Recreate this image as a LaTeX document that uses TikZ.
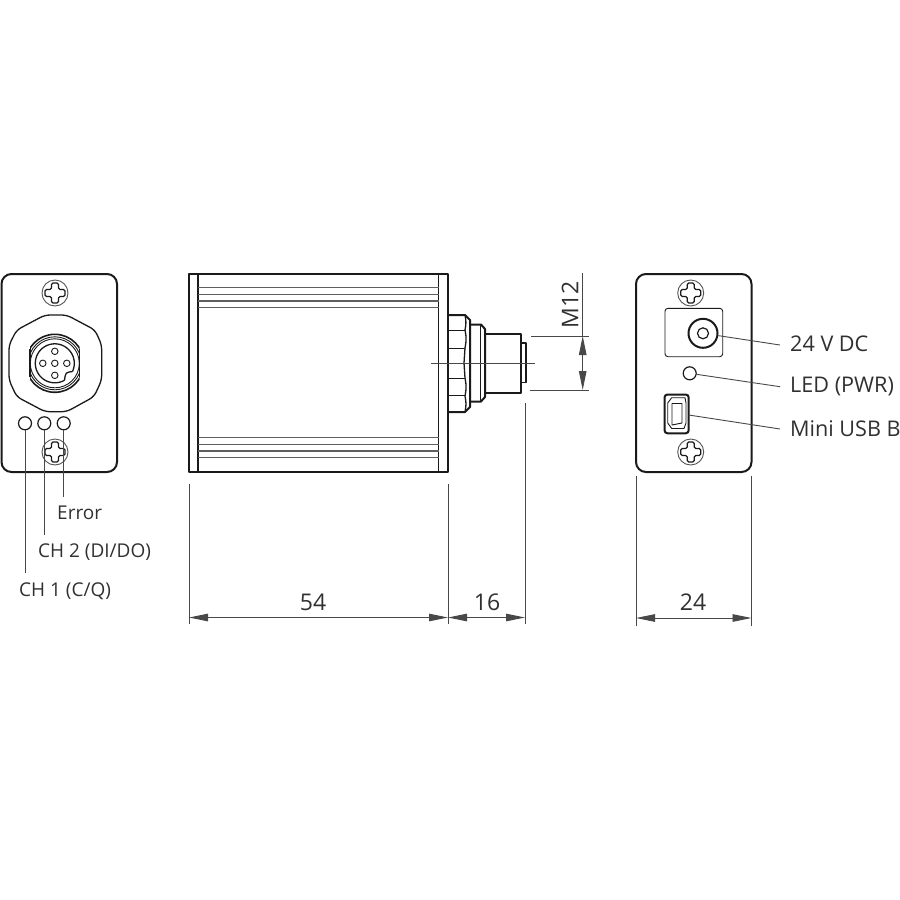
\documentclass[tikz,border=0pt]{standalone}
\usepackage{fontspec}
\setmainfont{Open Sans}
\usetikzlibrary{arrows.meta,calc}
\definecolor{ink}{HTML}{1A1A1A}
\definecolor{txt}{HTML}{303030}
\tikzset{
  heavy/.style={draw=ink,line width=2pt,line join=round},
  mid/.style={draw=ink,line width=1.3pt,line join=round},
  thin/.style={draw=ink,line width=0.9pt},
  leader/.style={draw=ink!80,line width=0.9pt},
  groove/.style={draw=ink!70,line width=1.2pt},
  dim/.style={draw=ink!80,line width=0.9pt,{Triangle[length=19pt,width=7.5pt]}-{Triangle[length=19pt,width=7.5pt]}},
  lab/.style={text=txt,font=\fontsize{21.6}{26}\selectfont,inner sep=0pt},
  numlab/.style={text=txt,font=\fontsize{23}{28}\selectfont,inner sep=0pt},
  smalllab/.style={text=txt,font=\fontsize{19}{23}\selectfont,inner sep=0pt},
  panel/.style={heavy,rounded corners=10pt},
  led/.style={circle,draw=ink,line width=1.2pt,minimum size=13pt,inner sep=0pt},
  pinhole/.style={circle,draw=ink,line width=0.9pt,minimum size=6.5pt,inner sep=0pt},
  screwhead/.style={circle,draw=ink!75,line width=0.9pt,minimum size=26pt,inner sep=0pt},
}
\newcommand{\screwcross}[1]{%
  \draw[mid,rounded corners=1.5pt] ($(#1)+(-3.5,-10)$) -- ($(#1)+(3.5,-10)$) -- ($(#1)+(3.5,-3.5)$) -- ($(#1)+(10,-3.5)$) -- ($(#1)+(10,3.5)$) -- ($(#1)+(3.5,3.5)$) -- ($(#1)+(3.5,10)$) -- ($(#1)+(-3.5,10)$) -- ($(#1)+(-3.5,3.5)$) -- ($(#1)+(-10,3.5)$) -- ($(#1)+(-10,-3.5)$) -- ($(#1)+(-3.5,-3.5)$) -- cycle;}
\begin{document}
\begin{tikzpicture}[x=1pt,y=-1pt]
\useasboundingbox (0,0) rectangle (900,900);
% left panel
\draw[panel] (1.5,274) rectangle (117,472);
\node[screwhead] (s1) at (55,293) {};
\screwcross{s1}
\node[screwhead] (s2) at (55,452) {};
\screwcross{s2}
\draw[mid,rounded corners=5pt] (45,315) -- (66.7,315) -- (95,330) -- (101.7,345) -- (101.7,380) -- (94,396.7) -- (66.7,411.7) -- (45,411.7) -- (16.7,396.7) -- (9,380) -- (9,345) -- (16.7,330) -- cycle;
\coordinate (cc) at (54.8,363.3);
\begin{scope}
\clip (30,330) rectangle (79.5,396);
\draw[heavy,line width=1.6pt] (cc) circle (29);
\draw[thin] (cc) circle (26.5);
\draw[thin] (cc) circle (24.5);
\end{scope}
\draw[mid] (30,349) -- (30,377);
\draw[mid] (79.5,349) -- (79.5,377);
\draw[mid,smooth] plot[domain=60:385,samples=60] ({54.8+19.5*cos(\x)},{363.3+19.5*sin(\x)});
\draw[mid] ({54.8+19.5*cos(25)},{363.3+19.5*sin(25)}) .. controls (65.5,372.5) .. ({54.8+19.5*cos(60)},{363.3+19.5*sin(60)});
\foreach \n/\a/\b in {p1/0/-12,p2/-12/0,p3/0/0,p4/12/0,p5/0/12}{
  \node[pinhole] (\n) at ($(cc)+(\a,\b)$) {};
}
\node[led] (l1) at (25,423.3) {};
\node[led] (l2) at (44.3,423.3) {};
\node[led] (l3) at (63.7,423.3) {};
\coordinate (l1e) at (25,573);
\coordinate (l2e) at (44.3,535);
\coordinate (l3e) at (63.7,497);
\draw[leader] (l1) -- (l1e);
\draw[leader] (l2) -- (l2e);
\draw[leader] (l3) -- (l3e);
\node[smalllab,anchor=west] (terr) at (57,512.5) {Error};
\node[smalllab,anchor=west] (tch2) at (38,552) {CH 2 (DI/DO)};
\node[smalllab,anchor=west] (tch1) at (19,591) {CH 1 (C/Q)};
% body
\draw[heavy] (189,274) rectangle (448,471.5);
\draw[mid] (198,274) -- (198,471.5);
\draw[mid] (438.5,274) -- (438.5,471.5);
\foreach \y in {287.7,294.3,301,307.7,437.7,444.3,451,457.7}{
  \draw[groove] (198,\y) -- (438.5,\y);
}
% connector
\draw[heavy] (448,315) -- (465,315) -- (470,320) -- (470,407) -- (465,412) -- (448,412);
\draw[mid] (465,315) to[bend left=12] (465,330) to[bend left=12] (465,348) -- (464,363) -- (465,378) to[bend left=12] (465,396) to[bend left=12] (465,412);
\draw[thin] (449,330.5) -- (465,330.5);
\draw[thin] (449,348.5) -- (465,348.5);
\draw[thin] (449,378.5) -- (465,378.5);
\draw[thin] (449,395.5) -- (465,395.5);
\draw[heavy] (470,324.5) -- (481,324.5) -- (485,329) -- (485,397) -- (481,401.5) -- (470,401.5);
\draw[mid] (480.5,324.5) -- (480.5,401.5);
\draw[heavy] (485,333.5) -- (521,333.5) -- (521,393) -- (485,393);
\draw[mid] (521,343) -- (526,343) -- (526,382.5) -- (521,382.5);
\coordinate (cl1) at (431,363);
\coordinate (cl2) at (535,363);
\draw[leader] (cl1) -- (cl2);
% M12 dimension
\coordinate (m1a) at (531,336);
\coordinate (m1b) at (589,336);
\coordinate (m2a) at (530,390);
\coordinate (m2b) at (589,390);
\coordinate (mtop) at (582.7,273);
\coordinate (mlo) at (582.7,390);
\coordinate (mhi) at (582.7,336);
\draw[leader] (m1a) -- (m1b);
\draw[leader] (m2a) -- (m2b);
\draw[leader] (mtop) -- (mhi);
\draw[dim] (mhi) -- (mlo);
\node[numlab,rotate=90] (tm12) at (570,304.5) {M12};
% right panel
\draw[panel] (636,274) rectangle (751.5,472);
\node[screwhead] (s3) at (690.7,293) {};
\screwcross{s3}
\node[screwhead] (s4) at (690.7,452) {};
\screwcross{s4}
\draw[thin,rounded corners=3pt] (665,308.3) rectangle (722.7,356.7);
\node[circle,draw=ink,line width=2pt,minimum size=29pt,inner sep=0pt] (jack) at (703,333.3) {};
\node[circle,draw=ink,line width=1.2pt,minimum size=11pt,inner sep=0pt] (jackin) at (703,333.3) {};
\node[led] (pwr) at (689.7,373.3) {};
\draw[heavy,rounded corners=3pt] (664.5,394.5) rectangle (688.7,433.3);
\draw[thin,line join=round] (667.7,403) -- (671.7,397.7) -- (685,397.7) -- (686,403) -- (686,423) -- (684,428.5) -- (671.7,428.5) -- (667.7,423) -- cycle;
\draw[thin,line join=round] (672,403.5) -- (682,403.5) -- (682,423) -- (672,425) -- cycle;
\node[lab,anchor=west] (t24) at (790,344) {24 V DC};
\node[lab,anchor=west] (tled) at (790,386) {LED (PWR)};
\node[lab,anchor=west] (tusb) at (790,429) {Mini USB B};
\coordinate (j1) at (780,345);
\coordinate (j2) at (780,386.7);
\coordinate (j3) at (780,429);
\coordinate (u0) at (688.7,415);
\draw[leader] (jack) -- (j1);
\draw[leader] (pwr) -- (j2);
\draw[leader] (u0) -- (j3);
% bottom dimensions
\coordinate (e1a) at (189,484);
\coordinate (e1b) at (189,624);
\coordinate (e2a) at (448,484);
\coordinate (e2b) at (448,624);
\coordinate (e3a) at (525,403);
\coordinate (e3b) at (525,624);
\coordinate (e4a) at (636,476);
\coordinate (e4b) at (636,626);
\coordinate (e5a) at (751.5,476);
\coordinate (e5b) at (751.5,626);
\foreach \n in {1,...,5}{\draw[leader] (e\n a) -- (e\n b);}
\coordinate (d1) at (189,617.5);
\coordinate (d2) at (448,617.5);
\coordinate (d3) at (525,617.5);
\coordinate (d4) at (636,618);
\coordinate (d5) at (751.5,618);
\draw[dim] (d1) -- (d2);
\draw[dim] (d2) -- (d3);
\draw[dim] (d4) -- (d5);
\node[numlab] (t54) at (313,602) {54};
\node[numlab] (t16) at (487,602) {16};
\node[numlab] (t24b) at (693,602) {24};
\end{tikzpicture}
\end{document}
